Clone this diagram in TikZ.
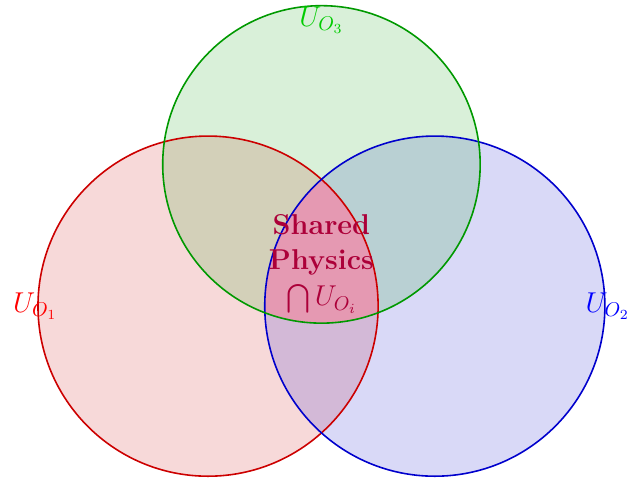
\documentclass[tikz,border=0pt]{standalone}
\usepackage{amsmath}
\usepackage{tikz}
\usetikzlibrary{positioning}

\begin{document}
\begin{tikzpicture}[every node/.style={font=\Large}, align=center]
    % Define styles for the sets
    \tikzstyle{setone} = [draw=red!80!black, thick]
    \tikzstyle{settwo} = [draw=blue!80!black, thick]
    \tikzstyle{setthree} = [draw=green!60!black, thick]
    \tikzstyle{shade} = [fill opacity=0.15]

    \useasboundingbox (-3.67,-3.05) rectangle (7.39,5.4);

    % Centres of the three sets
    \coordinate (cone) at (0,0);
    \coordinate (ctwo) at (4,0);
    \coordinate (cthree) at (2,2.5);

    % Fill the sets
    \fill [shade, red!80!black] (cone) circle (3);
    \fill [shade, blue!80!black] (ctwo) circle (3);
    \fill [shade, green!60!black] (cthree) circle (2.8);

    % Common part of all three
    \begin{scope}
        \clip (cone) circle (3);
        \clip (ctwo) circle (3);
        \fill [purple!40] (cthree) circle (2.8);
    \end{scope}

    % Outlines
    \draw [setone] (cone) circle (3);
    \draw [settwo] (ctwo) circle (3);
    \draw [setthree] (cthree) circle (2.8);

    % Labels
    \node (uone) [text=red] at (-3.05,0) {$U_{O_1}$};
    \node (utwo) [text=blue] at (7.05,0) {$U_{O_2}$};
    \node (uthree) [text=green!80!black] at (2,5.05) {$U_{O_3}$};
    \node (shared) [text=purple!90!black, font=\Large\bfseries] at (2,0.75) {Shared\\Physics\\$\bigcap U_{O_i}$};

\end{tikzpicture}
\end{document}
